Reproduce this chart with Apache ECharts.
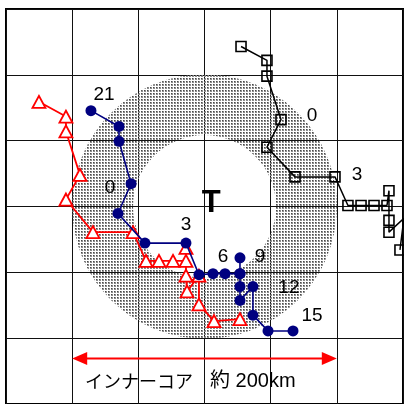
<!DOCTYPE html>
<html>
<head>
<meta charset="utf-8">
<script src="https://cdn.jsdelivr.net/npm/echarts@6/dist/echarts.min.js"></script>
<style>
html, body { margin: 0; padding: 0; background: #fff; }
#chart { width: 404px; height: 404px; }
</style>
</head>
<body>
<div id="chart"></div>
<script>
// Storm-relative positions in km (x: east, y: north), one point per hour.
const squareTrack = [
  [27.6, 121.5], [47.2, 111.0], [47.2, 99.0], [57.8, 66.0], [47.2, 45.0],
  [68.4, 22.5], [98.6, 22.5], [108.4, 0.8], [118.3, 0.8], [128.1, 0.8],
  [137.9, 0.8], [139.4, 12.0], [139.4, -10.5], [139.4, -19.5], [150.7, -9.0],
  [147.7, -33.0]
];
const circleTrack = [
  [-85.8, 72.8], [-64.6, 60.8], [-64.6, 49.5], [-55.5, 17.3], [-65.4, -5.3],
  [-45.0, -27.8], [-14.0, -27.8], [-4.2, -51.8], [6.4, -51.0], [15.5, -51.0],
  [26.8, -51.0], [26.8, -39.0], [26.8, -51.0], [26.8, -60.8], [26.8, -71.3],
  [36.6, -60.8], [36.6, -82.5], [48.0, -94.5], [66.9, -94.5]
];
const triangleTrack = [
  [-125.1, 79.5], [-104.7, 68.3], [-104.7, 57.0], [-94.1, 24.0], [-104.7, 5.3],
  [-84.3, -19.5], [-54.0, -19.5], [-44.2, -41.3], [-34.4, -41.3], [-23.8, -41.3],
  [-14.0, -41.3], [-14.0, -31.5], [-14.0, -52.5], [-13.2, -64.5], [-4.2, -52.5],
  [-4.2, -74.3], [7.2, -87.0], [26.8, -85.5]
];
// hour labels: [point index, text]
const circleTimes = [[0, '21'], [3, '0'], [6, '3'], [9, '6'], [12, '9'], [15, '12'], [18, '15']];
const squareTimes = [[3, '0'], [6, '3']];
// shaded inner-core band: inner and outer radius (km)
const coreBand = [54, 100];
// scale bar across the inner core
const coreSpan = [-100, 100, -115.5];
const coreName = 'インナーコア';
const coreSize = '約 200km';
const centreMark = 'T';
const axisRange = [-150, 150];
const gridStep = 50;

// label placement around the hour points (px)
const circleLabelOffsets = [[13, -16], [-21, 4], [0, -18], [-2, -17], [20, -17], [36, 1], [19, -15]];
const squareLabelOffsets = [[31, -4], [22, -2]];

const chart = echarts.init(document.getElementById('chart'), null, { renderer: 'canvas' });

// fine dot screen used for the band: small dots on a 3px pitch
const dots = document.createElement('canvas');
dots.width = 3; dots.height = 3;
const g = dots.getContext('2d');
g.fillStyle = '#8c8c8c';
g.fillRect(0, 0, 2, 2);
g.fillStyle = '#484848';
g.fillRect(0, 0, 1, 1);

const numFont = { fontFamily: 'Liberation Sans', fontSize: 19, color: '#000' };

function withLabels(track, times, offsets) {
  const items = track.map(p => ({ value: p }));
  times.forEach(([idx, txt], k) => {
    items[idx] = {
      value: track[idx],
      label: Object.assign({ show: true, position: 'inside', formatter: txt, offset: offsets[k] }, numFont)
    };
  });
  return items;
}

const axisCommon = {
  type: 'value', min: axisRange[0], max: axisRange[1], interval: gridStep,
  axisLine: { show: false }, axisTick: { show: false }, axisLabel: { show: false },
  splitLine: { show: true, lineStyle: { color: '#111', width: 1 } }
};

chart.setOption({
  animation: false,
  backgroundColor: '#fff',
  grid: { left: 6, top: 9, width: 397, height: 400, show: true, borderColor: '#000', borderWidth: 2, backgroundColor: 'transparent' },
  xAxis: axisCommon,
  yAxis: axisCommon,
  series: [
    {
      type: 'custom', z: 1, silent: true,
      data: [[0, 0]],
      renderItem: function (params, api) {
        const c = api.coord([api.value(0), api.value(1)]);
        const r0 = api.size([coreBand[0], 0])[0];
        const r = api.size([coreBand[1], 0])[0];
        return {
          type: 'ring',
          shape: { cx: c[0], cy: c[1], r: r, r0: r0 },
          style: { fill: { image: dots, repeat: 'repeat' } }
        };
      }
    },
    {
      type: 'custom', z: 2, silent: true,
      data: [[5, 2]],
      renderItem: function (params, api) {
        const c = api.coord([api.value(0), api.value(1)]);
        return {
          type: 'text',
          style: { x: c[0], y: c[1], text: centreMark, align: 'center', verticalAlign: 'middle',
                   font: 'bold 31px "Liberation Sans"', fill: '#000' }
        };
      }
    },
    {
      type: 'line', name: 'triangles', z: 3,
      data: triangleTrack,
      symbol: 'triangle', symbolSize: [13, 12],
      lineStyle: { color: '#ff0000', width: 1.8 },
      itemStyle: { color: '#fff', borderColor: '#ff0000', borderWidth: 1.8 }
    },
    {
      type: 'line', name: 'circles', z: 4,
      data: withLabels(circleTrack, circleTimes, circleLabelOffsets),
      symbol: 'circle', symbolSize: 11,
      lineStyle: { color: '#000080', width: 1.6 },
      itemStyle: { color: '#000080', borderWidth: 0 }
    },
    {
      type: 'line', name: 'squares', z: 5,
      data: withLabels(squareTrack, squareTimes, squareLabelOffsets),
      symbol: 'rect', symbolSize: 10,
      lineStyle: { color: '#000', width: 1.5 },
      itemStyle: { color: 'rgba(255,255,255,0)', borderColor: '#000', borderWidth: 1.6 }
    },
    {
      type: 'custom', z: 6, silent: true,
      data: [coreSpan],
      renderItem: function (params, api) {
        const a = api.coord([api.value(0), api.value(2)]);
        const b = api.coord([api.value(1), api.value(2)]);
        const L = 15, H = 6.5;
        return {
          type: 'group',
          children: [
            { type: 'line', shape: { x1: a[0] + L - 1, y1: a[1], x2: b[0] - L + 1, y2: b[1] },
              style: { stroke: '#ff0000', lineWidth: 2 } },
            { type: 'polygon', shape: { points: [[a[0], a[1]], [a[0] + L, a[1] - H], [a[0] + L, a[1] + H]] },
              style: { fill: '#ff0000' } },
            { type: 'polygon', shape: { points: [[b[0], b[1]], [b[0] - L, b[1] - H], [b[0] - L, b[1] + H]] },
              style: { fill: '#ff0000' } }
          ]
        };
      }
    },
    {
      type: 'custom', z: 6, silent: true,
      data: [[-90.3, -132.8]],
      renderItem: function (params, api) {
        const c = api.coord([api.value(0), api.value(1)]);
        return {
          type: 'text',
          style: {
            x: c[0], y: c[1], align: 'left', verticalAlign: 'middle',
            text: '{k|' + coreName + '}{g|}{n|' + coreSize + '}',
            rich: {
              k: { fontFamily: 'Noto Sans CJK JP', fontSize: 18, fill: '#000' },
              g: { width: 17 },
              n: { fontFamily: 'Liberation Sans, Noto Sans CJK JP', fontSize: 20, fill: '#000' }
            }
          }
        };
      }
    }
  ]
});
</script>
</body>
</html>
